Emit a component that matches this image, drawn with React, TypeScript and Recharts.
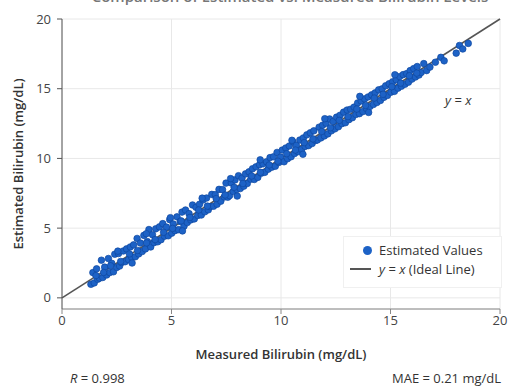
import React from 'react'
import { ScatterChart, Scatter, XAxis, YAxis, CartesianGrid, Label } from 'recharts'

// measured vs estimated bilirubin, mg/dL
const measured = [
  1.32, 1.41, 1.47, 1.58, 1.63, 1.71, 1.80, 1.86, 1.95, 2.04,
  2.12, 2.18, 2.27, 2.35, 2.41, 2.50, 2.58, 2.63, 2.72, 2.80,
  2.88, 2.95, 3.04, 3.12, 3.18, 3.27, 3.35, 3.43, 3.50, 3.58,
  3.66, 3.74, 3.81, 3.90, 3.97, 4.05, 4.13, 4.20, 4.28, 4.37,
  4.45, 4.52, 4.60, 4.68, 4.77, 4.85, 4.92, 5.01, 5.08, 5.16,
  5.25, 5.32, 5.40, 5.48, 5.57, 5.64, 5.72, 5.80, 5.88, 5.96,
  6.04, 6.12, 6.20, 6.28, 6.36, 6.44, 6.52, 6.60, 6.68, 6.76,
  6.84, 6.92, 7.00, 7.08, 7.17, 7.25, 7.33, 7.41, 7.49, 7.57,
  7.65, 7.73, 7.82, 7.90, 7.98, 8.06, 8.14, 8.22, 8.30, 8.38,
  8.46, 8.54, 8.62, 8.70, 8.78, 8.86, 8.94, 9.02, 9.10, 9.18,
  9.26, 9.34, 9.42, 9.50, 9.58, 9.66, 9.74, 9.82, 9.90, 9.98,
  10.06, 10.14, 10.22, 10.30, 10.38, 10.46, 10.54, 10.62, 10.70, 10.78,
  10.86, 10.94, 11.02, 11.10, 11.18, 11.26, 11.34, 11.42, 11.50, 11.58,
  11.66, 11.74, 11.82, 11.90, 11.98, 12.06, 12.14, 12.22, 12.30, 12.38,
  12.46, 12.54, 12.62, 12.70, 12.78, 12.86, 12.94, 13.02, 13.10, 13.18,
  13.26, 13.34, 13.42, 13.50, 13.58, 13.66, 13.74, 13.82, 13.90, 13.98,
  14.06, 14.14, 14.22, 14.30, 14.38, 14.46, 14.54, 14.62, 14.70, 14.78,
  14.86, 14.94, 15.02, 15.10, 15.18, 15.26, 15.34, 15.42, 15.50, 15.58,
  15.66, 15.74, 15.82, 15.90, 15.98, 16.06, 16.14, 16.22, 16.30, 16.40,
  16.52, 16.65, 16.80, 17.05, 17.30, 17.45, 18.00, 18.15, 18.30, 18.55,
  2.55, 3.85, 4.95, 6.40, 7.70, 9.05, 10.50, 12.00, 13.60, 15.20,
  3.20, 5.50, 8.00, 11.00, 14.00,
  1.55, 1.90, 2.22, 2.68, 3.08, 3.45, 3.86, 4.25, 4.64, 5.05,
  5.44, 5.84, 6.24, 6.64, 7.04, 7.45, 7.86, 8.26, 8.66, 9.06,
  9.46, 9.86, 10.26, 10.66, 11.06, 11.46, 11.86, 12.26, 12.66, 13.06,
  13.46, 13.86, 14.26, 14.66, 15.06, 15.46, 15.86, 16.20,
]
const estimated = [
  0.97, 1.81, 1.07, 2.08, 1.33, 1.41, 2.70, 1.46, 2.20, 1.64,
  2.82, 1.81, 2.48, 1.87, 3.13, 2.18, 3.18, 2.28, 2.53, 3.36,
  2.59, 3.51, 2.74, 3.65, 2.92, 3.80, 2.95, 4.26, 3.15, 3.93,
  3.32, 4.48, 3.51, 4.03, 4.90, 3.65, 4.53, 3.96, 4.95, 4.02,
  5.09, 4.17, 5.32, 4.42, 5.07, 4.45, 5.61, 4.64, 5.30, 4.82,
  5.81, 4.89, 5.48, 6.15, 5.14, 6.30, 5.40, 6.04, 5.59, 6.66,
  5.66, 6.49, 5.91, 6.71, 5.94, 7.02, 6.17, 7.16, 6.31, 6.54,
  7.42, 6.57, 7.40, 6.71, 7.78, 6.93, 7.76, 7.23, 8.23, 7.22,
  7.33, 8.24, 7.63, 8.46, 7.77, 8.76, 7.84, 8.59, 8.01, 8.89,
  8.20, 9.04, 8.51, 9.26, 8.49, 9.40, 8.64, 9.55, 8.94, 9.61,
  9.00, 9.76, 9.23, 10.06, 9.37, 10.12, 9.44, 10.43, 9.71, 10.09,
  10.60, 9.76, 10.75, 9.98, 10.89, 10.12, 11.20, 10.35, 10.94, 10.49,
  11.32, 10.64, 11.47, 10.86, 11.69, 10.92, 11.84, 11.07, 11.98, 11.29,
  11.32, 12.24, 11.47, 12.38, 11.61, 12.52, 11.76, 12.83, 11.98, 12.65,
  12.12, 12.96, 12.27, 13.10, 12.49, 13.32, 12.56, 13.47, 12.78, 13.53,
  12.92, 13.68, 13.15, 13.98, 13.21, 14.12, 13.36, 14.27, 13.58, 14.41,
  13.72, 14.56, 13.87, 14.70, 14.01, 14.92, 14.16, 14.99, 14.38, 15.21,
  14.52, 15.36, 14.75, 15.50, 14.81, 15.64, 15.04, 15.87, 15.18, 16.01,
  15.32, 16.08, 15.47, 16.30, 15.69, 16.44, 15.84, 16.59, 15.98, 16.16,
  16.80, 16.30, 16.55, 16.90, 17.25, 17.00, 17.55, 18.10, 17.85, 18.25,
  3.35, 4.60, 5.75, 7.15, 8.55, 9.90, 11.30, 12.85, 14.45, 16.00,
  2.50, 4.80, 7.30, 10.30, 13.30,
  1.60, 1.82, 2.30, 2.61, 3.15, 3.40, 3.94, 4.18, 4.70, 4.98,
  5.52, 5.77, 6.30, 6.58, 7.12, 7.38, 7.93, 8.20, 8.74, 9.00,
  9.53, 9.80, 10.34, 10.60, 11.13, 11.40, 11.93, 12.20, 12.73, 13.00,
  13.54, 13.80, 14.33, 14.60, 15.14, 15.40, 15.93, 16.12,
]
const idealEnds = [0, 20]
const xTicks = [0, 5, 10, 15, 20]
const yTicks = [0, 5, 10, 15, 20]

const points = measured.map((m, i) => ({ x: m, y: estimated[i] }))
const ideal = idealEnds.map((v) => ({ x: v, y: v }))

const font = '"Open Sans", "DejaVu Sans", sans-serif'
const blue = '#1d62c6'

const Dot = (props: any) => (
  <circle cx={props.cx} cy={props.cy} r={3.3} fill={blue} stroke="#0e47a0" strokeWidth={0.7} />
)

export default function App() {
  return (
    <div style={{ position: 'absolute', left: 0, top: 0, width: 511, height: 391, background: '#fff', fontFamily: font, overflow: 'hidden' }}>
      <div style={{ position: 'absolute', top: -14, left: 90, width: 400, textAlign: 'center', fontSize: 15, fontWeight: 600, color: '#777' }}>
        Comparison of Estimated vs. Measured Bilirubin Levels
      </div>
      <ScatterChart width={511} height={391} margin={{ top: 19, right: 11, bottom: 32, left: 0 }}>
        <CartesianGrid stroke="#e8e8e8" strokeWidth={1} />
        <XAxis
          type="number"
          dataKey="x"
          domain={[0, 20]}
          ticks={xTicks}
          height={50}
          tick={{ fill: '#444', fontSize: 13, fontFamily: font }}
          axisLine={{ stroke: '#888' }}
          tickLine={{ stroke: '#888' }}
          tickSize={5}
        >
          <Label value="Measured Bilirubin (mg/dL)" position="insideBottom" offset={0}
            style={{ fill: '#333', fontSize: 13, fontWeight: 600, fontFamily: font }} />
        </XAxis>
        <YAxis
          type="number"
          dataKey="y"
          domain={[-0.8, 20]}
          ticks={yTicks}
          width={62}
          tick={{ fill: '#444', fontSize: 13, fontFamily: font }}
          axisLine={{ stroke: '#555' }}
          tickLine={{ stroke: '#555' }}
          tickSize={5}
          tickMargin={6}
        >
          <Label value="Estimated Bilirubin (mg/dL)" angle={-90} position="insideLeft" offset={18}
            style={{ fill: '#333', fontSize: 13, fontWeight: 600, fontFamily: font, textAnchor: 'middle' }} />
        </YAxis>
        <Scatter data={ideal} line={{ stroke: '#555', strokeWidth: 1.6 }} shape={() => <g />} isAnimationActive={false} />
        <Scatter data={points} shape={Dot} isAnimationActive={false} />
      </ScatterChart>

      <div style={{ position: 'absolute', left: 445, top: 91, fontSize: 13, color: '#333' }}>
        <i>y</i> = <i>x</i>
      </div>

      <div style={{ position: 'absolute', left: 343, top: 236, width: 157, height: 50, background: '#fff', border: '1px solid #f0f0f0', fontSize: 13, color: '#333' }}>
        <div style={{ position: 'absolute', left: 19, top: 9, width: 9, height: 9, borderRadius: '50%', background: blue }} />
        <div style={{ position: 'absolute', left: 35, top: 4 }}>Estimated Values</div>
        <div style={{ position: 'absolute', left: 6, top: 31, width: 21, height: 2, background: '#555' }} />
        <div style={{ position: 'absolute', left: 35, top: 23 }}><i>y</i> = <i>x</i> (Ideal Line)</div>
      </div>

      <div style={{ position: 'absolute', left: 70, top: 369, fontSize: 13, color: '#333' }}>
        <i>R</i> = 0.998
      </div>
      <div style={{ position: 'absolute', right: 10, top: 369, fontSize: 13, color: '#333' }}>
        MAE = 0.21 mg/dL
      </div>
    </div>
  )
}
